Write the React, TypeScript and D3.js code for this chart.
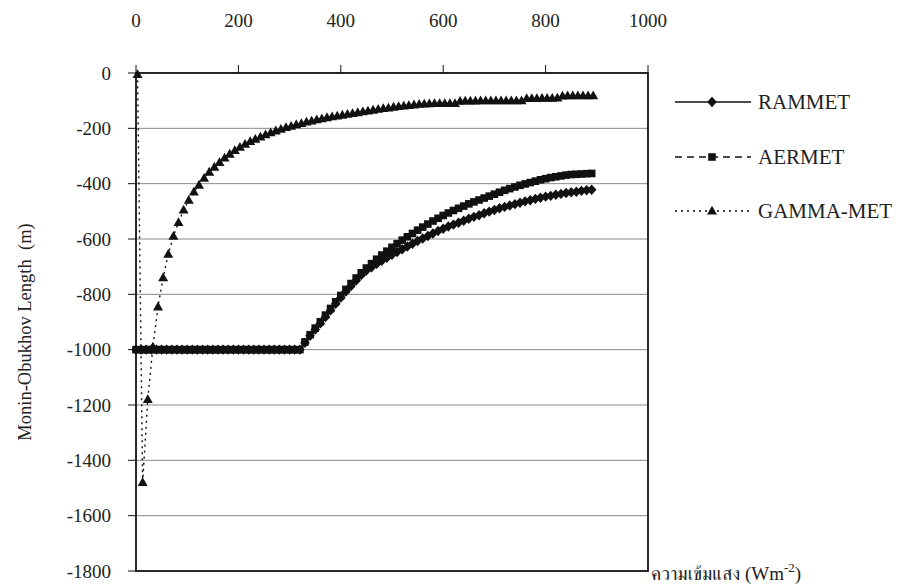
import React from "react";
import * as d3 from "d3";

// Irradiance grid (W m^-2) for the two regulatory pre-processors
const irradiance = d3.range(0, 900, 10);
// GAMMA-MET is sampled on a slightly offset grid
const irradianceGamma = d3.range(3, 900, 10);

const rammet = [
  -1000, -1000, -1000, -1000, -1000, -1000, -1000, -1000, -1000, -1000, -1000,
  -1000, -1000, -1000, -1000, -1000, -1000, -1000, -1000, -1000, -1000, -1000,
  -1000, -1000, -1000, -1000, -1000, -1000, -1000, -1000, -1000, -1000, -1000,
  -975, -950, -927, -905, -882, -858, -834, -812, -790, -770, -750, -730,
  -714, -702, -690, -679, -668, -657, -647, -637, -627, -617, -607, -598, -589,
  -580, -571, -563, -555, -548, -541, -534, -527, -520, -514, -507, -501, -495,
  -489, -484, -479, -474, -469, -464, -460, -455, -451, -447, -444, -440, -437,
  -434, -431, -429, -426, -424, -422,
];

const aermet = [
  -1000, -1000, -1000, -1000, -1000, -1000, -1000, -1000, -1000, -1000, -1000,
  -1000, -1000, -1000, -1000, -1000, -1000, -1000, -1000, -1000, -1000, -1000,
  -1000, -1000, -1000, -1000, -1000, -1000, -1000, -1000, -1000, -1000, -1000,
  -972, -946, -922, -899, -875, -851, -827, -804, -782, -761, -741, -722,
  -705, -689, -673, -658, -644, -630, -617, -604, -592, -580, -568, -557, -546,
  -535, -525, -515, -506, -497, -489, -481, -473, -466, -459, -452, -445, -438,
  -431, -424, -418, -412, -406, -401, -396, -391, -386, -382, -378, -375, -372,
  -369, -367, -366, -365, -364, -363,
];

const gammaMet = [
  -5, -1480, -1180, -990, -845, -740, -655, -590, -540, -495, -460, -430, -405,
  -380, -358, -340, -323, -307, -293, -280, -268, -257, -247, -239, -231, -223,
  -216, -209, -203, -197, -192, -187, -182, -177, -173, -169, -165, -161, -158,
  -155, -152, -149, -146, -143, -140, -137, -134, -131, -128, -126, -123, -121,
  -119, -117, -115, -113, -112, -111, -110, -110, -110, -110, -110, -102, -101,
  -101, -101, -100, -100, -100, -100, -100, -100, -100, -100, -100, -92, -92,
  -92, -91, -91, -91, -90, -83, -82, -82, -82, -82, -82, -82,
];

const xTicks = [0, 200, 400, 600, 800, 1000];
const yTicks = [0, -200, -400, -600, -800, -1000, -1200, -1400, -1600, -1800];
const seriesNames = ["RAMMET", "AERMET", "GAMMA-MET"];

const W = 904;
const H = 586;
const left = 136;
const right = 648;
const top = 73;
const bottom = 571;

const serif = "Liberation Serif";
const thaiSerif = "FreeSerif";

type Shape = "diamond" | "square" | "triangle";

function markerPath(shape: Shape): string {
  if (shape === "diamond") return "M0,-5.2L4.8,0L0,5.2L-4.8,0Z";
  if (shape === "square") return "M-3.8,-3.8H3.8V3.8H-3.8Z";
  return "M0,-5.2L5,3.6H-5Z";
}

export default function App() {
  const x = d3.scaleLinear().domain([0, 1000]).range([left, right]);
  const y = d3.scaleLinear().domain([0, -1800]).range([top, bottom]);

  const series = [
    { name: seriesNames[0], xs: irradiance, ys: rammet, shape: "diamond" as Shape, dash: "none" },
    { name: seriesNames[1], xs: irradiance, ys: aermet, shape: "square" as Shape, dash: "7,5" },
    { name: seriesNames[2], xs: irradianceGamma, ys: gammaMet, shape: "triangle" as Shape, dash: "2,4" },
  ];

  const line = d3
    .line<[number, number]>()
    .x((d) => x(d[0]))
    .y((d) => y(d[1]));

  const legendY = [102, 157, 211];
  const txt = { fontFamily: serif, fill: "#222" } as React.CSSProperties;

  return (
    <svg
      width={W}
      height={H}
      viewBox={`0 0 ${W} ${H}`}
      style={{ position: "absolute", left: 0, top: 0, background: "#fff" }}
    >
      {/* horizontal gridlines */}
      {yTicks.slice(1, -1).map((t) => (
        <line key={`g${t}`} x1={left} x2={right} y1={y(t)} y2={y(t)} stroke="#8a8a8a" strokeWidth={1} />
      ))}

      {/* series */}
      {series.map((s) => {
        const pts: [number, number][] = s.xs.map((v, i) => [v, s.ys[i]]);
        return (
          <g key={s.name}>
            <path d={line(pts) || ""} fill="none" stroke="#111" strokeWidth={1.4} strokeDasharray={s.dash} />
            {pts.map((p, i) => (
              <path key={i} d={markerPath(s.shape)} transform={`translate(${x(p[0])},${y(p[1])})`} fill="#111" />
            ))}
          </g>
        );
      })}

      {/* frame */}
      <rect x={left} y={top} width={right - left} height={bottom - top} fill="none" stroke="#111" strokeWidth={1.8} />

      {/* y ticks & labels */}
      {yTicks.map((t) => (
        <g key={`y${t}`}>
          <line x1={left - 8} x2={left} y1={y(t)} y2={y(t)} stroke="#111" strokeWidth={1} />
          <text x={111} y={y(t)} dy="0.35em" textAnchor="end" fontSize={19} style={txt}>
            {t === 0 ? "0" : `-${Math.abs(t)}`}
          </text>
        </g>
      ))}

      {/* x ticks on top edge & labels */}
      {xTicks.map((t) => (
        <g key={`x${t}`}>
          <line x1={x(t)} x2={x(t)} y1={top - 8} y2={top} stroke="#111" strokeWidth={1} />
          <text x={x(t)} y={27} textAnchor="middle" fontSize={19} style={txt}>
            {t}
          </text>
        </g>
      ))}

      {/* axis titles */}
      <text
        transform={`translate(31,332) rotate(-90)`}
        textAnchor="middle"
        fontSize={18.5}
        style={{ ...txt, whiteSpace: "pre" }}
      >
        {"Monin-Obukhov Length  (m)"}
      </text>
      <text x={651} y={580} fontSize={19} style={txt}>
        <tspan style={{ fontFamily: thaiSerif }} fontSize={19}>ความเข้มแสง</tspan>
        <tspan> (Wm</tspan>
        <tspan dy={-8} fontSize={13}>-2</tspan>
        <tspan dy={8}>)</tspan>
      </text>

      {/* legend */}
      {series.map((s, i) => (
        <g key={`l${s.name}`} transform={`translate(0,${legendY[i]})`}>
          <line x1={675} x2={751} y1={0} y2={0} stroke="#111" strokeWidth={1.4} strokeDasharray={s.dash} />
          <path d={markerPath(s.shape)} transform="translate(712,0)" fill="#111" />
          <text x={758} y={0} dy="0.35em" fontSize={21} style={txt}>
            {s.name}
          </text>
        </g>
      ))}
    </svg>
  );
}
